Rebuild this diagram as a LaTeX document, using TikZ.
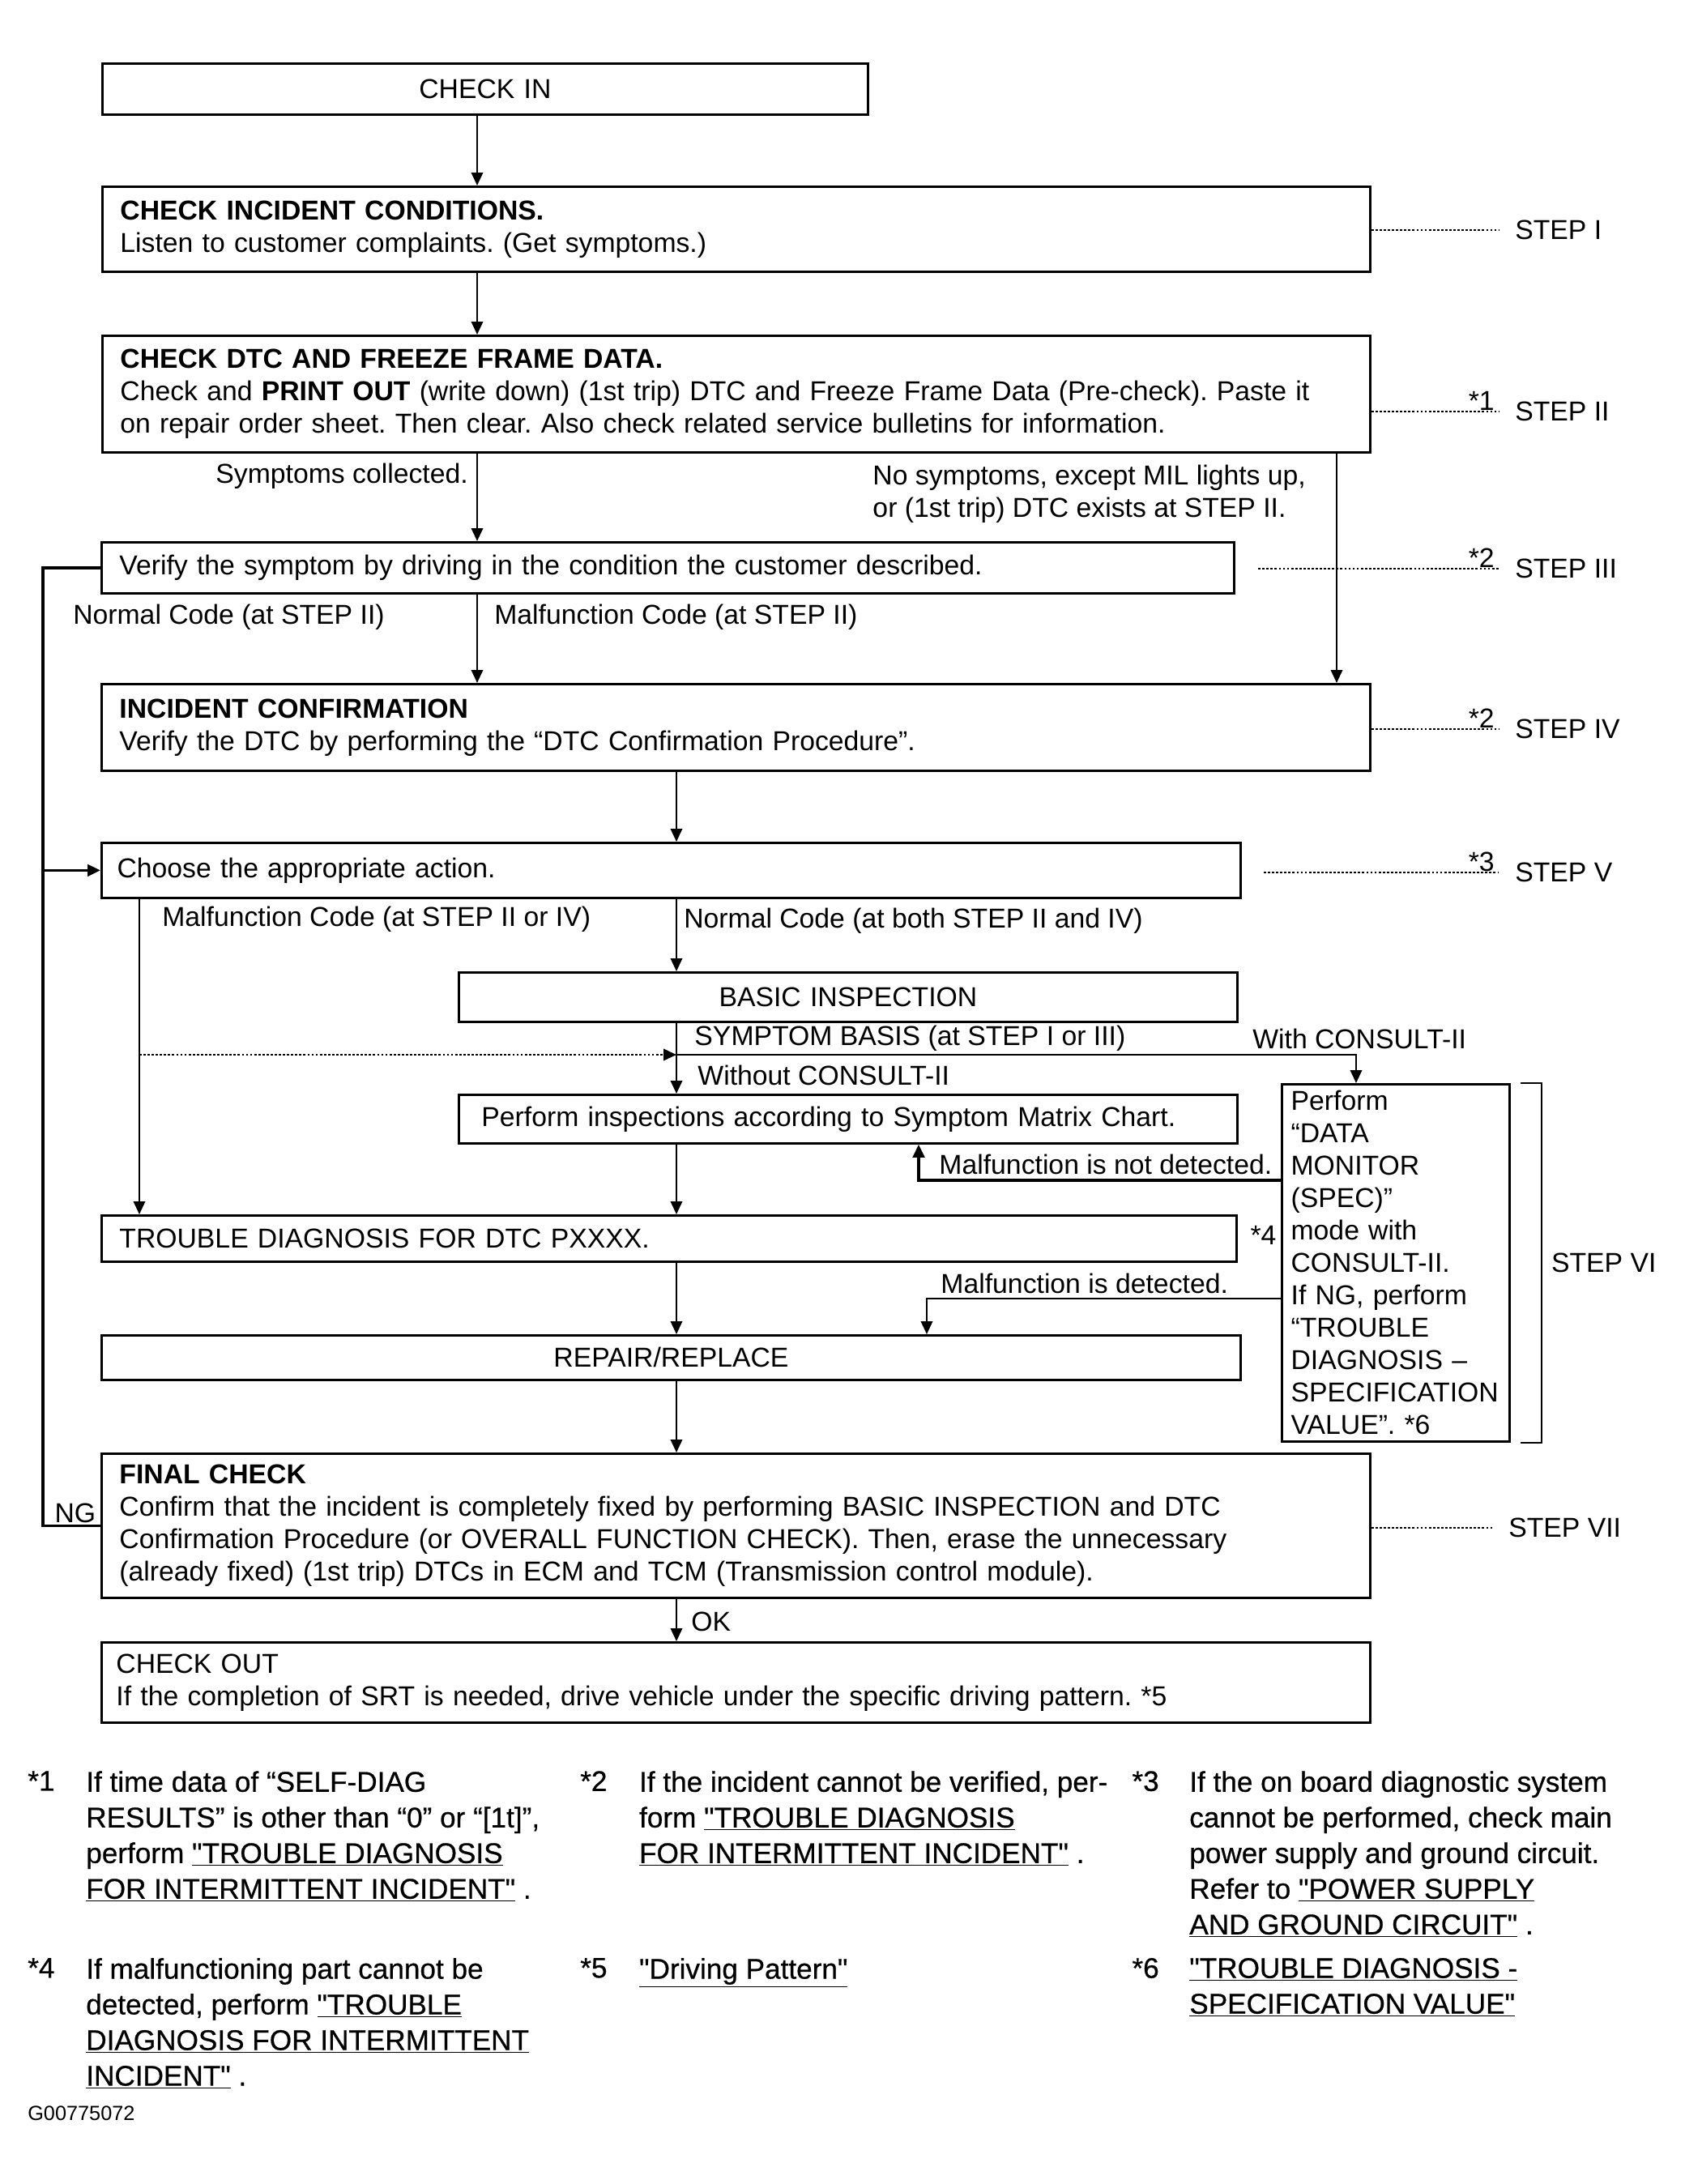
\documentclass[tikz,border=0pt]{standalone}
\usepackage{fontspec}
\setmainfont{Liberation Sans}[Ligatures=TeXOff]
\newfontfamily\notefamily{Liberation Sans}[Ligatures=TeXOff, FakeBold=0.6]
\usetikzlibrary{arrows.meta, positioning, calc}
\frenchspacing

\newcommand{\flowfont}{\fontsize{24}{28.45}\selectfont}
\newcommand{\fnfont}{\notefamily\fontsize{25}{31.3}\selectfont}

\tikzset{
  stepbox/.style={draw, line width=2pt, anchor=north west, inner xsep=0.55cm, inner ysep=0pt, align=left, font=\flowfont},
  flow/.style={line width=1.6pt, -{Triangle[length=0.4cm, width=0.36cm]}},
  heavyflow/.style={line width=2.6pt, -{Triangle[length=0.4cm, width=0.36cm]}},
  loopline/.style={line width=2.6pt},
  link/.style={line width=1.6pt},
  steplink/.style={line width=1.8pt, dash pattern=on 2pt off 1.6pt},
  lbl/.style={font=\flowfont, inner sep=0pt, anchor=west},
  steplbl/.style={font=\flowfont, inner sep=0pt, anchor=west},
  fnmark/.style={font=\fnfont, inner sep=0pt, anchor=north west},
  fntext/.style={font=\fnfont, inner sep=0pt, anchor=north west, align=left},
}

\begin{document}
\begin{tikzpicture}
  \useasboundingbox (0,0) rectangle (51.975,-67.4);
  % Spalten der Verbinder
  \coordinate (colA) at (14.725,0);
  \coordinate (colB) at (20.875,0);
  \coordinate (colC) at (41.25,0);
  \coordinate (colD) at (4.3,0);
  \coordinate (colE) at (41.85,0);
  \coordinate (loop) at (1.33,0);
  % Kaesten
  \node[stepbox, minimum width=23.625cm, text width=22.525cm, minimum height=1.575cm, align=center] (checkin) at (3.125,-1.925) {CHECK IN};
  \node[stepbox, minimum width=39.125cm, text width=38.025cm, minimum height=2.625cm] (incident) at (3.125,-5.725)
    {\textbf{CHECK INCIDENT CONDITIONS.}\\Listen to customer complaints. (Get symptoms.)};
  \node[stepbox, minimum width=39.125cm, text width=38.025cm, minimum height=3.6cm] (dtc) at (3.125,-10.325)
    {\textbf{CHECK DTC AND FREEZE FRAME DATA.}\\Check and \textbf{PRINT OUT} (write down) (1st trip) DTC and Freeze Frame Data (Pre-check). Paste it\\on repair order sheet. Then clear. Also check related service bulletins for information.};
  \node[stepbox, minimum width=34.95cm, text width=33.85cm, minimum height=1.575cm] (verify) at (3.1,-16.7)
    {Verify the symptom by driving in the condition the customer described.};
  \node[stepbox, minimum width=39.15cm, text width=38.05cm, minimum height=2.675cm] (incconf) at (3.1,-21.075)
    {\textbf{INCIDENT CONFIRMATION}\\Verify the DTC by performing the “DTC Confirmation Procedure”.};
  \node[stepbox, minimum width=35.15cm, inner xsep=0.48cm, text width=34.19cm, minimum height=1.7cm] (choose) at (3.1,-25.975)
    {Choose the appropriate action.};
  \node[stepbox, minimum width=24.025cm, text width=22.925cm, minimum height=1.525cm, align=center] (basic) at (14.125,-29.975)
    {BASIC INSPECTION};
  \node[stepbox, minimum width=24.025cm, inner xsep=0.7cm, text width=22.625cm, minimum height=1.5cm] (perfinsp) at (14.125,-33.75)
    {Perform inspections according to Symptom Matrix Chart.};
  \node[stepbox, minimum width=7.025cm, inner xsep=0.28cm, text width=6.465cm, minimum height=11.025cm] (datamon) at (39.525,-33.425)
    {Perform\\“DATA\\MONITOR\\(SPEC)”\\mode with\\CONSULT-II.\\If NG, perform\\“TROUBLE\\DIAGNOSIS –\\SPECIFICATION\\VALUE”. *6};
  \node[stepbox, minimum width=35.025cm, text width=33.925cm, minimum height=1.425cm] (trouble) at (3.1,-37.475)
    {TROUBLE DIAGNOSIS FOR DTC PXXXX.};
  \node[stepbox, minimum width=35.15cm, text width=34.05cm, minimum height=1.375cm, align=center] (repair) at (3.1,-41.175)
    {REPAIR/REPLACE};
  \node[stepbox, minimum width=39.15cm, text width=38.05cm, minimum height=4.45cm] (final) at (3.1,-44.825)
    {\textbf{FINAL CHECK}\\Confirm that the incident is completely fixed by performing BASIC INSPECTION and DTC\\Confirmation Procedure (or OVERALL FUNCTION CHECK). Then, erase the unnecessary\\(already fixed) (1st trip) DTCs in ECM and TCM (Transmission control module).};
  \node[stepbox, minimum width=39.15cm, inner xsep=0.45cm, text width=38.25cm, minimum height=2.475cm] (checkout) at (3.1,-50.65)
    {CHECK OUT\\If the completion of SRT is needed, drive vehicle under the specific driving pattern. *5};
  % Verbinder
  \draw[flow] (checkin.south -| colA) -- (incident.north -| colA);
  \draw[flow] (incident.south -| colA) -- (dtc.north -| colA);
  \draw[flow] (dtc.south -| colA) -- (verify.north -| colA);
  \draw[flow] (dtc.south -| colC) -- (incconf.north -| colC);
  \draw[flow] (verify.south -| colA) -- (incconf.north -| colA);
  \draw[flow] (incconf.south -| colB) -- (choose.north -| colB);
  \draw[flow] (choose.south -| colB) -- (basic.north -| colB);
  \draw[flow] (basic.south -| colB) -- (perfinsp.north -| colB);
  \draw[flow] (perfinsp.south -| colB) -- (trouble.north -| colB);
  \draw[flow] (trouble.south -| colB) -- (repair.north -| colB);
  \draw[flow] (repair.south -| colB) -- (final.north -| colB);
  \draw[flow] (final.south -| colB) -- (checkout.north -| colB);
  \draw[flow] (choose.south -| colD) -- (trouble.north -| colD);
  % Symptom-Basis und CONSULT-II
  \coordinate (symR) at (20.875,-32.55);
  \draw[steplink, -{Triangle[length=0.4cm, width=0.36cm]}] (colD |- symR) -- (symR);
  \draw[flow] (symR) -| (datamon.north -| colE);
  \coordinate (nodet) at (28.35,-36.43);
  \draw[heavyflow] (datamon.west |- nodet) -| (perfinsp.south -| nodet);
  \coordinate (isdet) at (28.6,-40.08);
  \draw[flow] (datamon.west |- isdet) -| (repair.north -| isdet);
  % Rueckfuehrung links
  \draw[loopline] (verify.west) -- (verify.west -| loop) -- (final.west -| loop) -- (final.west)
    node[pos=0.56, above=0.05cm, font=\flowfont, inner sep=0pt] (ng) {NG};
  \draw[heavyflow] (choose.west -| loop) -- (choose.west);
  % Schritte
  \node[steplbl] (s1) at (46.75,-7.1) {STEP I};
  \node[steplbl] (s2) at (46.75,-12.7) {STEP II};
  \node[steplbl] (s3) at (46.75,-17.55) {STEP III};
  \node[steplbl] (s4) at (46.75,-22.5) {STEP IV};
  \node[steplbl] (s5) at (46.75,-26.93) {STEP V};
  \node[steplbl] (s6) at ([xshift=1.25cm]datamon.east) {STEP VI};
  \node[steplbl] (s7) at (46.55,-47.15) {STEP VII};
  \coordinate (s3start) at (38.83,-17.55);
  \coordinate (s5start) at (39.0,-26.93);
  \draw[steplink] (incident.east |- s1.west) -- ([xshift=-0.5cm]s1.west);
  \draw[steplink] (dtc.east |- s2.west) -- ([xshift=-0.5cm]s2.west)
    node[anchor=south east, xshift=-0.1cm, font=\flowfont, inner sep=0pt] (st1) {*1};
  \draw[steplink] (s3start) -- ([xshift=-0.5cm]s3.west)
    node[anchor=south east, xshift=-0.1cm, font=\flowfont, inner sep=0pt] (st2a) {*2};
  \draw[steplink] (incconf.east |- s4.west) -- ([xshift=-0.5cm]s4.west)
    node[anchor=south east, xshift=-0.1cm, font=\flowfont, inner sep=0pt] (st2b) {*2};
  \draw[steplink] (s5start) -- ([xshift=-0.5cm]s5.west)
    node[anchor=south east, xshift=-0.1cm, font=\flowfont, inner sep=0pt] (st3) {*3};
  \draw[steplink] (final.east |- s7.west) -- ([xshift=-0.47cm]s7.west);
  \draw[link] ([xshift=0.3cm]datamon.north east) -- ([xshift=0.95cm]datamon.north east)
    -- ([xshift=0.95cm]datamon.south east) -- ([xshift=0.3cm]datamon.south east);
  % Beschriftungen
  \node[lbl, anchor=east] (symcol) at (14.45,-14.7) {Symptoms collected.};
  \node[lbl, align=left] (nosym) at (26.93,-15.25) {No symptoms, except MIL lights up,\\or (1st trip) DTC exists at STEP II.};
  \node[lbl] (normII) at (2.25,-19.05) {Normal Code (at STEP II)};
  \node[lbl] (malII) at (15.25,-19.05) {Malfunction Code (at STEP II)};
  \node[lbl] (malIV) at (5.0,-28.38) {Malfunction Code (at STEP II or IV)};
  \node[lbl] (normIV) at (21.1,-28.43) {Normal Code (at both STEP II and IV)};
  \node[lbl] (sympb) at (21.43,-32.05) {SYMPTOM BASIS (at STEP I or III)};
  \node[lbl] (withc) at (38.65,-32.05) {With CONSULT-II};
  \node[lbl] (withoutc) at (21.53,-33.18) {Without CONSULT-II};
  \node[lbl] (notdet) at (28.98,-35.93) {Malfunction is not detected.};
  \node[lbl] (detd) at (29.03,-39.6) {Malfunction is detected.};
  \node[lbl] (st4) at (38.58,-38.13) {*4};
  \node[lbl] (ok) at (21.33,-50.05) {OK};
  % Fussnoten
  \node[fnmark] (f1) at (0.85,-54.65) {*1};
  \node[fntext] (t1) at (2.65,-54.65) {If time data of “SELF-DIAG\\RESULTS” is other than “0” or “[1t]”,\\perform \underline{"TROUBLE DIAGNOSIS}\\\underline{FOR INTERMITTENT INCIDENT"} .};
  \node[fnmark] (f2) at (17.9,-54.65) {*2};
  \node[fntext] (t2) at (19.72,-54.65) {If the incident cannot be verified, per-\\form \underline{"TROUBLE DIAGNOSIS}\\\underline{FOR INTERMITTENT INCIDENT"} .};
  \node[fnmark] (f3) at (34.93,-54.65) {*3};
  \node[fntext] (t3) at (36.7,-54.65) {If the on board diagnostic system\\cannot be performed, check main\\power supply and ground circuit.\\Refer to \underline{"POWER SUPPLY}\\\underline{AND GROUND CIRCUIT"} .};
  \node[fnmark] (f4) at (0.85,-60.42) {*4};
  \node[fntext] (t4) at (2.65,-60.42) {If malfunctioning part cannot be\\detected, perform \underline{"TROUBLE}\\\underline{DIAGNOSIS FOR INTERMITTENT}\\\underline{INCIDENT"} .};
  \node[fnmark] (f5) at (17.9,-60.42) {*5};
  \node[fntext] (t5) at (19.72,-60.42) {\underline{"Driving Pattern"}};
  \node[fnmark] (f6) at (34.93,-60.42) {*6};
  \node[fntext] (t6) at (36.7,-60.42) {\underline{"TROUBLE DIAGNOSIS -}\\\underline{SPECIFICATION VALUE"}};
  \node[lbl, font=\fontsize{18}{22}\selectfont] (gcode) at (0.85,-65.23) {G00775072};
\end{tikzpicture}
\end{document}
